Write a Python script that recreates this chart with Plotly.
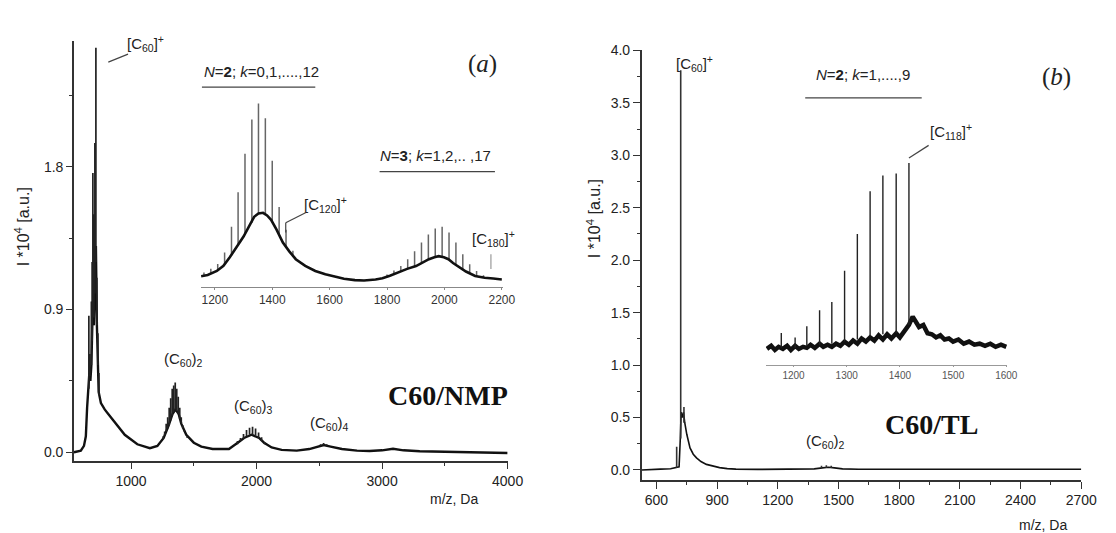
import plotly.graph_objects as go

W, H = 1116, 533

# ---------------- Panel (a): C60/NMP main spectrum ----------------
A_BODY_MZ = [545, 600, 625, 640, 650, 660, 668, 676, 684, 690, 696, 704, 712, 720, 728, 734, 742, 760, 790, 820,
             870, 950, 1050, 1150, 1210, 1260, 1300, 1330, 1354, 1380, 1400, 1440, 1500, 1560, 1650, 1780, 1850, 1900,
             1960, 2020, 2060, 2120, 2200, 2320, 2420, 2480, 2535, 2590, 2680, 2800, 2900, 3000, 3087, 3170, 3300,
             3500, 3700, 4000]
A_BODY_I = [0.0, 0.01, 0.04, 0.10, 0.28, 0.40, 0.50, 0.45, 0.55, 0.75, 0.95, 0.80, 1.00, 1.30, 0.80, 0.50, 0.38, 0.31,
            0.27, 0.24, 0.19, 0.11, 0.05, 0.025, 0.04, 0.09, 0.17, 0.24, 0.27, 0.24, 0.18, 0.11, 0.06, 0.035, 0.02,
            0.02, 0.06, 0.09, 0.11, 0.09, 0.06, 0.03, 0.015, 0.01, 0.02, 0.035, 0.045, 0.035, 0.02, 0.01, 0.008,
            0.012, 0.022, 0.012, 0.006, 0.003, 0.0, -0.005]
A_SPIKE_MZ = [664, 672, 684, 690, 696, 704, 712, 720, 728, 736, 744,
              1256, 1268, 1280, 1292, 1304, 1316, 1328, 1340, 1352, 1364, 1376, 1388, 1400, 1412, 1424, 1448,
              1848, 1872, 1896, 1920, 1944, 1968, 1992, 2016, 2040, 2064,
              2510, 2534, 2558]
A_SPIKE_BASE = [0.40, 0.48, 0.55, 0.70, 0.90, 0.85, 1.00, 1.20, 0.80, 0.55, 0.36,
                0.085, 0.105, 0.13, 0.15, 0.17, 0.20, 0.23, 0.25, 0.27, 0.26, 0.24, 0.21, 0.18, 0.15, 0.13, 0.10,
                0.05, 0.07, 0.085, 0.10, 0.11, 0.11, 0.105, 0.09, 0.07, 0.05,
                0.04, 0.045, 0.04]
A_SPIKE_TOP = [0.86, 0.62, 0.95, 1.20, 1.76, 1.50, 1.95, 2.55, 1.10, 0.75, 0.50,
               0.10, 0.13, 0.18, 0.22, 0.28, 0.34, 0.40, 0.42, 0.44, 0.40, 0.35, 0.28, 0.22, 0.17, 0.14, 0.09,
               0.07, 0.09, 0.115, 0.14, 0.155, 0.16, 0.15, 0.125, 0.095, 0.065,
               0.05, 0.058, 0.05]
A_XTICKS = [1000, 2000, 3000, 4000]
A_XMINOR = [1500, 2500, 3500]
A_YTICKS = [0.0, 0.9, 1.8]
A_YTICKTEXT = ["0.0", "0.9", "1.8"]
A_YMINOR = [0.45, 1.35, 2.25]

# ---------------- Inset (a) ----------------
IA_BODY_MZ = [1152, 1175, 1207, 1230, 1252, 1275, 1300, 1320, 1337, 1352, 1368, 1382, 1396, 1415, 1437, 1460, 1482,
              1515, 1550, 1585, 1619, 1650, 1688, 1720, 1760, 1784, 1810, 1843, 1870, 1901, 1925, 1946, 1965, 1980,
              1998, 2014, 2030, 2049, 2075, 2107, 2140, 2170, 2200]
IA_BODY_I = [0.055, 0.062, 0.083, 0.11, 0.155, 0.21, 0.264, 0.32, 0.368, 0.385, 0.389, 0.375, 0.352, 0.30, 0.233,
             0.185, 0.145, 0.11, 0.083, 0.066, 0.052, 0.042, 0.035, 0.033, 0.038, 0.045, 0.058, 0.078, 0.094, 0.109,
             0.13, 0.145, 0.155, 0.161, 0.155, 0.145, 0.125, 0.104, 0.08, 0.057, 0.047, 0.043, 0.038]
IA_SPIKE_MZ = [1162, 1186, 1210, 1234, 1258, 1281, 1305, 1329, 1352, 1376, 1400, 1424, 1448, 1472,
               1800, 1824, 1848, 1872, 1896, 1920, 1944, 1968, 1992, 2016, 2040, 2064, 2088, 2112, 2136]
IA_SPIKE_BASE = [0.058, 0.07, 0.085, 0.12, 0.165, 0.215, 0.275, 0.335, 0.385, 0.38, 0.345, 0.27, 0.21, 0.16,
                 0.055, 0.068, 0.08, 0.094, 0.108, 0.126, 0.144, 0.156, 0.158, 0.144, 0.116, 0.087, 0.068, 0.056, 0.049]
IA_SPIKE_TOP = [0.075, 0.095, 0.12, 0.18, 0.316, 0.497, 0.70, 0.88, 0.964, 0.886, 0.663, 0.42, 0.30, 0.19,
                0.065, 0.085, 0.109, 0.145, 0.187, 0.233, 0.275, 0.306, 0.316, 0.285, 0.233, 0.171, 0.119, 0.083, 0.06]
IA_XTICKS = [1200, 1400, 1600, 1800, 2000, 2200]

# ---------------- Panel (b): C60/TL main spectrum ----------------
B_BODY_MZ = [527, 560, 620, 670, 690, 712, 718, 722, 728, 734, 740, 750, 766, 782, 798, 820, 847, 880, 912, 950, 993,
             1100, 1300, 1380, 1420, 1450, 1480, 1520, 1600, 1800, 2100, 2400, 2700]
B_BODY_I = [0.0, 0.005, 0.008, 0.012, 0.02, 0.03, 0.30, 0.55, 0.50, 0.55, 0.45, 0.34, 0.21, 0.15, 0.115, 0.08,
            0.053, 0.035, 0.022, 0.013, 0.008, 0.005, 0.005, 0.01, 0.02, 0.025, 0.02, 0.01, 0.006, 0.006, 0.006,
            0.006, 0.006]
B_SPIKE_MZ = [700, 720, 736, 1416, 1440, 1464]
B_SPIKE_BASE = [0.02, 0.30, 0.45, 0.02, 0.02, 0.02]
B_SPIKE_TOP = [0.22, 3.81, 0.60, 0.04, 0.045, 0.04]
B_XTICKS = [600, 900, 1200, 1500, 1800, 2100, 2400, 2700]
B_XMINOR = [750, 1050, 1350, 1650, 1950, 2250, 2550]
B_YTICKS = [0.0, 0.5, 1.0, 1.5, 2.0, 2.5, 3.0, 3.5, 4.0]
B_YMINOR = [0.25, 0.75, 1.25, 1.75, 2.25, 2.75, 3.25, 3.75]

# ---------------- Inset (b) ----------------
IB_BODY_MZ = [1150, 1158, 1165, 1172, 1180, 1188, 1195, 1203, 1210, 1218, 1225, 1232, 1240, 1249, 1256, 1264, 1272,
              1280, 1288, 1296, 1304, 1312, 1320, 1328, 1336, 1344, 1352, 1360, 1368, 1376, 1384, 1393, 1400, 1408,
              1417, 1424, 1430, 1436, 1444, 1452, 1460, 1468, 1476, 1484, 1492, 1500, 1510, 1520, 1530, 1540, 1550,
              1560, 1570, 1580, 1590, 1600]
IB_BODY_I = [0.075, 0.09, 0.07, 0.085, 0.075, 0.09, 0.07, 0.09, 0.075, 0.085, 0.08, 0.095, 0.08, 0.10, 0.085, 0.095,
             0.085, 0.10, 0.09, 0.11, 0.095, 0.115, 0.10, 0.125, 0.11, 0.13, 0.115, 0.14, 0.12, 0.145, 0.125, 0.15,
             0.13, 0.16, 0.19, 0.23, 0.20, 0.18, 0.19, 0.15, 0.145, 0.13, 0.14, 0.12, 0.125, 0.11, 0.12, 0.10, 0.11,
             0.095, 0.10, 0.09, 0.10, 0.085, 0.095, 0.085]
IB_SPIKE_MZ = [1177, 1203, 1225, 1249, 1272, 1296, 1320, 1344, 1368, 1393, 1417]
IB_SPIKE_BASE = [0.08, 0.08, 0.09, 0.095, 0.10, 0.11, 0.12, 0.135, 0.145, 0.15, 0.19]
IB_SPIKE_TOP = [0.151, 0.13, 0.184, 0.26, 0.30, 0.45, 0.625, 0.83, 0.906, 0.915, 0.965]
IB_XTICKS = [1200, 1300, 1400, 1500, 1600]


def spikes(mz, base, top):
    xs, ys = [], []
    for m, b, t in zip(mz, base, top):
        xs += [m, m, None]
        ys += [b, t, None]
    return xs, ys


fig = go.Figure()

# main (a)
fig.add_trace(go.Scatter(x=A_BODY_MZ, y=A_BODY_I, mode="lines", line=dict(color="#111", width=2.4),
                         xaxis="x", yaxis="y", hoverinfo="skip"))
sx, sy = spikes(A_SPIKE_MZ, A_SPIKE_BASE, A_SPIKE_TOP)
fig.add_trace(go.Scatter(x=sx, y=sy, mode="lines", line=dict(color="#222", width=1.7),
                         xaxis="x", yaxis="y", hoverinfo="skip"))
# main (b)
fig.add_trace(go.Scatter(x=B_BODY_MZ, y=B_BODY_I, mode="lines", line=dict(color="#111", width=1.6),
                         xaxis="x2", yaxis="y2", hoverinfo="skip"))
sx, sy = spikes(B_SPIKE_MZ, B_SPIKE_BASE, B_SPIKE_TOP)
fig.add_trace(go.Scatter(x=sx, y=sy, mode="lines", line=dict(color="#333", width=1.6),
                         xaxis="x2", yaxis="y2", hoverinfo="skip"))
# inset (a)
sx, sy = spikes(IA_SPIKE_MZ, IA_SPIKE_BASE, IA_SPIKE_TOP)
fig.add_trace(go.Scatter(x=sx, y=sy, mode="lines", line=dict(color="#666", width=1.5),
                         xaxis="x3", yaxis="y3", hoverinfo="skip"))
fig.add_trace(go.Scatter(x=IA_BODY_MZ, y=IA_BODY_I, mode="lines", line=dict(color="#111", width=2.6),
                         xaxis="x3", yaxis="y3", hoverinfo="skip"))
# inset (b)
fig.add_trace(go.Scatter(x=IB_BODY_MZ, y=IB_BODY_I, mode="lines", line=dict(color="#111", width=4.5),
                         xaxis="x4", yaxis="y4", hoverinfo="skip"))
sx, sy = spikes(IB_SPIKE_MZ, IB_SPIKE_BASE, IB_SPIKE_TOP)
fig.add_trace(go.Scatter(x=sx, y=sy, mode="lines", line=dict(color="#222", width=1.4),
                         xaxis="x4", yaxis="y4", hoverinfo="skip"))

SANS = "Liberation Sans, Arial, sans-serif"
SERIF = "Liberation Serif, Times New Roman, serif"
AX = "#333"


def dx(px):
    return px / W


def dy(py):
    return 1 - py / H


main_common = dict(showline=True, linecolor=AX, linewidth=1.5, ticks="outside", tickcolor=AX, tickwidth=1.2,
                   showgrid=False, zeroline=False, tickfont=dict(family=SANS, size=14, color="#222"), mirror=False)

fig.update_layout(
    width=W, height=H, margin=dict(l=0, r=0, t=0, b=0), showlegend=False,
    paper_bgcolor="white", plot_bgcolor="rgba(0,0,0,0)",
    xaxis=dict(domain=[dx(75), dx(515)], range=[545, 4000], anchor="y", tickvals=A_XTICKS, ticklen=6,
               minor=dict(tickvals=A_XMINOR, ticklen=3, ticks="outside", tickcolor=AX), **main_common),
    yaxis=dict(domain=[dy(460), dy(33)], range=[-0.056, 2.596], anchor="x", tickvals=A_YTICKS,
               ticktext=A_YTICKTEXT, ticklen=6,
               minor=dict(tickvals=A_YMINOR, ticklen=3, ticks="outside", tickcolor=AX), **main_common),
    xaxis2=dict(domain=[dx(651), dx(1097)], range=[527, 2700], anchor="y2", tickvals=B_XTICKS, ticklen=7,
                minor=dict(tickvals=B_XMINOR, ticklen=3, ticks="outside", tickcolor=AX), **main_common),
    yaxis2=dict(domain=[dy(479), dy(43)], range=[-0.094, 4.0], anchor="x2", tickvals=B_YTICKS, tickformat=".1f",
                ticklen=7, minor=dict(tickvals=B_YMINOR, ticklen=3, ticks="outside", tickcolor=AX), **main_common),
    xaxis3=dict(domain=[dx(204), dx(510)], range=[1152, 2203], anchor="y3", tickvals=IA_XTICKS,
                showline=True, linecolor="#888", linewidth=1.2, ticks="outside", ticklen=2, tickcolor="#888",
                showgrid=False, zeroline=False, tickfont=dict(family=SANS, size=12, color="#333")),
    yaxis3=dict(domain=[dy(283), dy(40)], range=[0, 1.259], anchor="x3", visible=False),
    xaxis4=dict(domain=[dx(777), dx(1022)], range=[1148, 1602], anchor="y4", tickvals=IB_XTICKS,
                showline=True, linecolor="#999", linewidth=1.2, ticks="outside", ticklen=1, tickcolor="#999",
                showgrid=False, zeroline=False, tickfont=dict(family=SANS, size=10, color="#555")),
    yaxis4=dict(domain=[dy(362), dy(60)], range=[0, 1.425], anchor="x4", visible=False),
)


def txt(px, py, text, size=15, family=SANS, color="#222", angle=0):
    fig.add_annotation(x=dx(px), y=dy(py), xref="paper", yref="paper", text=text, showarrow=False,
                       xanchor="center", yanchor="middle", textangle=angle,
                       font=dict(family=family, size=size, color=color))


# panel (a) texts
txt(148, 36, "[C<sub>60</sub>]<sup>+</sup>", 15)
txt(265, 64, "<i>N</i>=<b>2</b>; <i>k</i>=0,1,....,12", 15)
txt(442, 150, "<i>N</i>=<b>3</b>; <i>k</i>=1,2,.. ,17", 15)
txt(330, 200, "[C<sub>120</sub>]<sup>+</sup>", 15)
txt(501, 234, "[C<sub>180</sub>]<sup>+</sup>", 15)
txt(490, 57, "(<i>a</i>)", 25, SERIF)
txt(186, 357, "(C<sub>60</sub>)<sub>2</sub>", 15)
txt(257, 405, "(C<sub>60</sub>)<sub>3</sub>", 15)
txt(334, 422, "(C<sub>60</sub>)<sub>4</sub>", 15)
txt(455, 393, "<b>C60/NMP</b>", 28, SERIF, "#111")
txt(461, 498, "m/z, Da", 14)
txt(22, 222, "I *10<sup>4</sup> [a.u.]", 16, angle=-90)

# panel (b) texts
txt(705, 56, "[C<sub>60</sub>]<sup>+</sup>", 15)
txt(876, 68, "<i>N</i>=<b>2</b>; <i>k</i>=1,....,9", 15)
txt(965, 125, "[C<sub>118</sub>]<sup>+</sup>", 15)
txt(1072, 70, "(<i>b</i>)", 25, SERIF)
txt(838, 440, "(C<sub>60</sub>)<sub>2</sub>", 15)
txt(945, 423, "<b>C60/TL</b>", 28, SERIF, "#111")
txt(1058, 525, "m/z, Da", 14)
txt(602, 214, "I *10<sup>4</sup> [a.u.]", 16, angle=-90)

# leader lines / underlines (anchored on the axes they annotate)
LN = dict(color="#444", width=1.2)
fig.add_shape(type="line", xref="x", yref="y", x0=819, y0=2.46, x1=976, y1=2.51, line=LN)
fig.add_shape(type="line", xref="x3", yref="y3", x0=1155, y0=1.05, x1=1550, y1=1.05, line=LN)
fig.add_shape(type="line", xref="x3", yref="y3", x0=1774, y0=0.606, x1=2176, y1=0.606, line=LN)
fig.add_shape(type="line", xref="x3", yref="y3", x0=1447, y0=0.337, x1=1516, y1=0.389, line=LN)
fig.add_shape(type="line", xref="x3", yref="y3", x0=1447, y0=0.337, x1=1447, y1=0.285, line=LN)
fig.add_shape(type="line", xref="x3", yref="y3", x0=2162, y0=0.171, x1=2162, y1=0.093,
              line=dict(color="#999", width=1.2))
fig.add_shape(type="line", xref="x4", yref="y4", x0=1222, y0=1.278, x1=1441, y1=1.278, line=LN)
fig.add_shape(type="line", xref="x4", yref="y4", x0=1417, y0=0.99, x1=1454, y1=1.05, line=LN)

fig.write_html("out.html")
